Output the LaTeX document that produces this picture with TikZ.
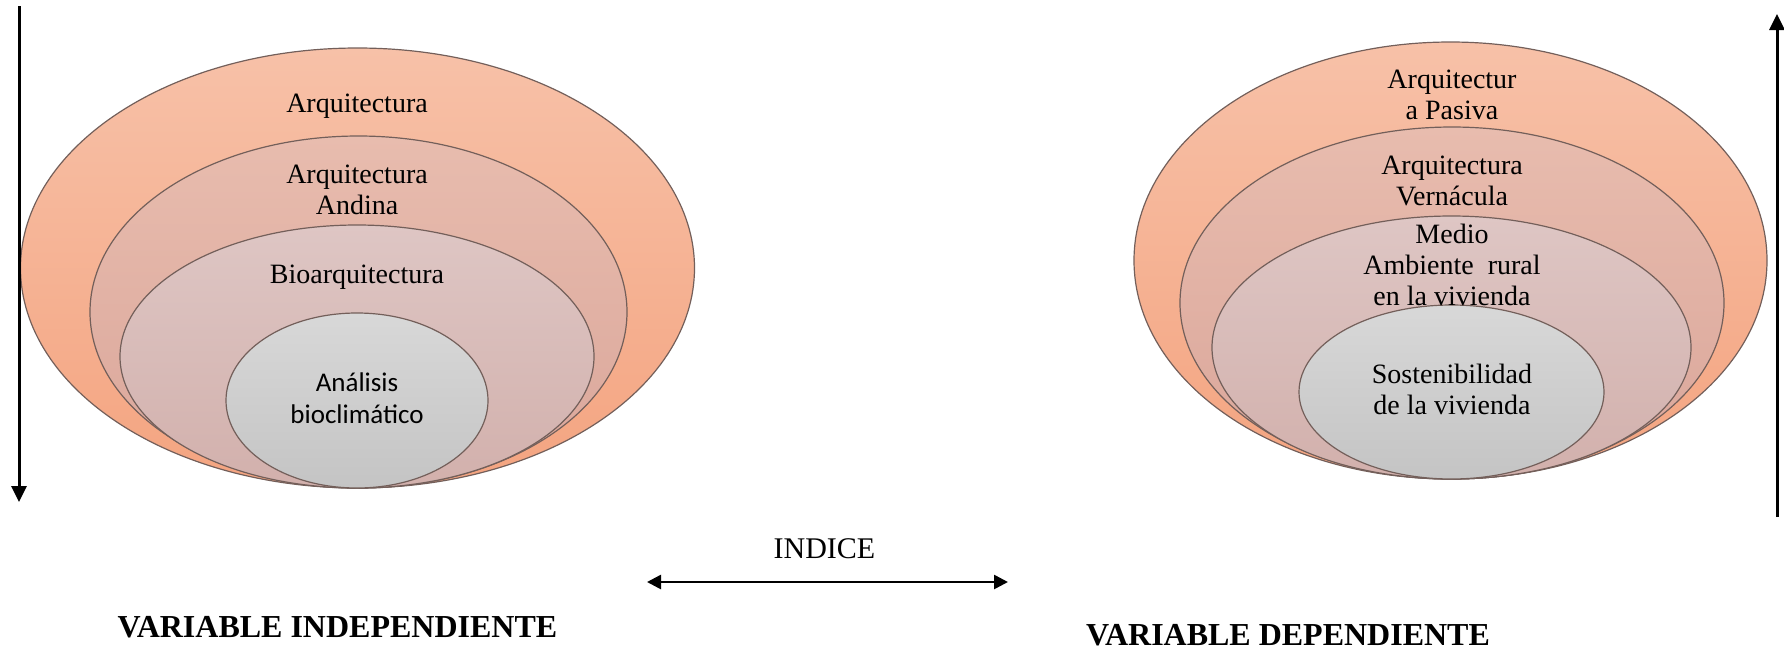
\documentclass[tikz,border=0pt]{standalone}
\usepackage{fontspec}
\setmainfont{Liberation Serif}
\newfontfamily\calib{Carlito}
\usetikzlibrary{shapes.geometric,arrows.meta}
\definecolor{ringline}{RGB}{115,95,90}
\definecolor{outerTop}{RGB}{247,193,168}
\definecolor{outerBot}{RGB}{244,164,128}
\definecolor{secTop}{RGB}{232,188,174}
\definecolor{secBot}{RGB}{218,166,154}
\definecolor{thirdTop}{RGB}{222,198,196}
\definecolor{thirdBot}{RGB}{210,176,172}
\definecolor{innerTop}{RGB}{216,216,216}
\definecolor{innerBot}{RGB}{196,196,196}
\begin{document}
\begin{tikzpicture}[x=0.5pt,y=-0.5pt,
  ring/.style={ellipse, draw=ringline, line width=0.6pt, inner sep=0pt, outer sep=0pt},
  ringA/.style={ring, top color=outerTop, bottom color=outerBot},
  ringB/.style={ring, top color=secTop, bottom color=secBot},
  ringC/.style={ring, top color=thirdTop, bottom color=thirdBot},
  ringD/.style={ring, top color=innerTop, bottom color=innerBot},
  lbl/.style={font=\fontsize{14pt}{15.5pt}\selectfont, align=center, inner sep=0pt, anchor=base},
  slbl/.style={font=\calib\fontsize{13.5pt}{16pt}\selectfont, align=center, inner sep=0pt, anchor=base},
  axis/.style={line width=1.5pt, -{Triangle[length=8pt,width=7.5pt]}},
  both/.style={line width=1.3pt, {Triangle[length=7pt,width=7pt]}-{Triangle[length=7pt,width=7pt]}},
  title/.style={font=\bfseries\fontsize{16pt}{18pt}\selectfont, inner sep=0pt, anchor=base}
]
\useasboundingbox (0,0) rectangle (1784,650);

% left rings
\node[ringA, minimum width=337pt, minimum height=220pt] (la) at (357.5,268) {};
\node[ringB, minimum width=268.5pt, minimum height=176pt] (lb) at (358.5,312) {};
\node[ringC, minimum width=237pt, minimum height=131.5pt] (lc) at (357,356.5) {};
\node[ringD, minimum width=131pt, minimum height=87.5pt] (ld) at (357,400.5) {};

% (base anchor of a multi-line node = baseline of its last line)
\node[lbl] (ta) at (357,112) {Arquitectura};
\node[lbl] (tb) at (357,214) {Arquitectura\\Andina};
\node[lbl] (tc) at (357,283) {Bioarquitectura};
\node[slbl] (td) at (357,423) {Análisis\\bioclimático};

% right rings
\node[ringA, minimum width=316.5pt, minimum height=218.5pt] (ra) at (1450.5,260.5) {};
\node[ringB, minimum width=272pt, minimum height=176pt] (rb) at (1452,303) {};
\node[ringC, minimum width=239.5pt, minimum height=131.5pt] (rc) at (1451.5,347.5) {};
\node[ringD, minimum width=152.5pt, minimum height=87pt] (rd) at (1451.5,392) {};

\node[lbl] (ua) at (1452,119) {Arquitectur\\a Pasiva};
\node[lbl] (ub) at (1452,205) {Arquitectura\\Vernácula};
\node[lbl] (uc) at (1452,305) {Medio\\Ambiente\ \ rural\\en la vivienda};
\node[lbl] (ud) at (1452,414) {Sostenibilidad\\de la vivienda};

% axes
\coordinate (l1) at (19,6);
\coordinate (l2) at (19,502);
\coordinate (r1) at (1777,517);
\coordinate (r2) at (1777,14);
\draw[axis] (l1) -- (l2);
\draw[axis] (r1) -- (r2);

% index
\node[font=\fontsize{15pt}{17pt}\selectfont, inner sep=0pt, anchor=base] (idx) at (824.5,558) {INDICE};
\coordinate (i1) at (647,582);
\coordinate (i2) at (1008,582);
\draw[both] (i1) -- (i2);

\node[title] (vi) at (337.5,637) {VARIABLE INDEPENDIENTE};
\node[title] (vd) at (1288,645) {VARIABLE DEPENDIENTE};
\end{tikzpicture}
\end{document}
